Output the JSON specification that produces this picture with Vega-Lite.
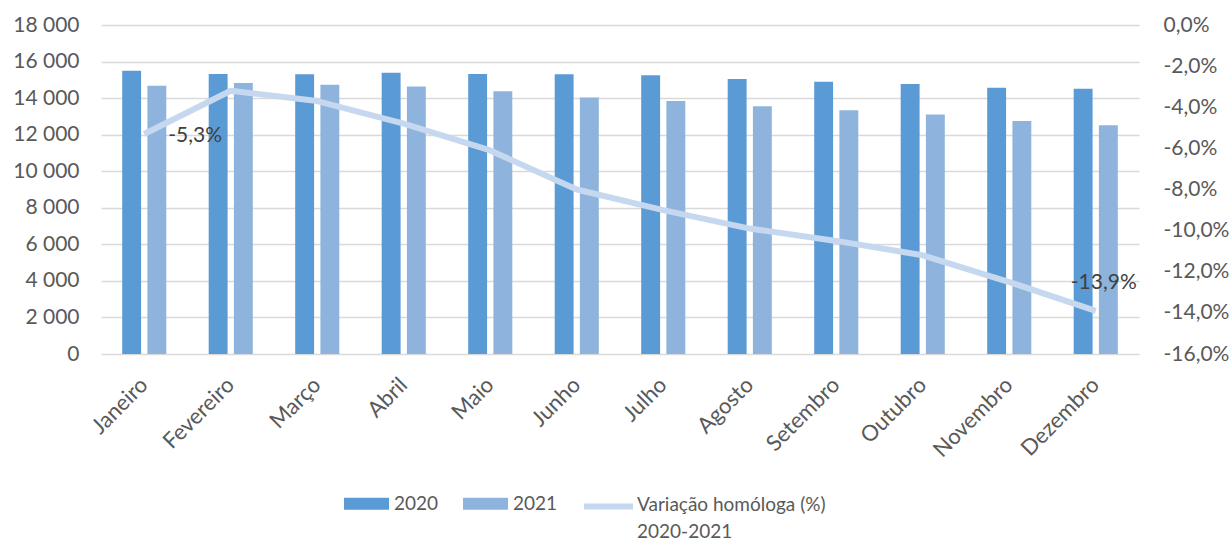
{
  "$schema": "https://vega.github.io/schema/vega-lite/v6.json",
  "width": 1038,
  "height": 329,
  "autosize": {"type": "pad"},
  "padding": {"left": 12, "top": 14, "right": 5, "bottom": 0},
  "config": {
    "font": "Lato",
    "view": {"stroke": null},
    "axis": {"labelFont": "Lato", "labelFontSize": 21, "labelColor": "#595959", "titleColor": "#595959"}
  },
  "datasets": {
    "barras": [
      {"mes": "Janeiro", "serie": "2020", "valor": 15500}, {"mes": "Janeiro", "serie": "2021", "valor": 14670},
      {"mes": "Fevereiro", "serie": "2020", "valor": 15320}, {"mes": "Fevereiro", "serie": "2021", "valor": 14830},
      {"mes": "Março", "serie": "2020", "valor": 15300}, {"mes": "Março", "serie": "2021", "valor": 14730},
      {"mes": "Abril", "serie": "2020", "valor": 15390}, {"mes": "Abril", "serie": "2021", "valor": 14640},
      {"mes": "Maio", "serie": "2020", "valor": 15320}, {"mes": "Maio", "serie": "2021", "valor": 14370},
      {"mes": "Junho", "serie": "2020", "valor": 15300}, {"mes": "Junho", "serie": "2021", "valor": 14040},
      {"mes": "Julho", "serie": "2020", "valor": 15250}, {"mes": "Julho", "serie": "2021", "valor": 13840},
      {"mes": "Agosto", "serie": "2020", "valor": 15040}, {"mes": "Agosto", "serie": "2021", "valor": 13550},
      {"mes": "Setembro", "serie": "2020", "valor": 14900}, {"mes": "Setembro", "serie": "2021", "valor": 13330},
      {"mes": "Outubro", "serie": "2020", "valor": 14770}, {"mes": "Outubro", "serie": "2021", "valor": 13110},
      {"mes": "Novembro", "serie": "2020", "valor": 14570}, {"mes": "Novembro", "serie": "2021", "valor": 12750},
      {"mes": "Dezembro", "serie": "2020", "valor": 14510}, {"mes": "Dezembro", "serie": "2021", "valor": 12510}
    ],
    "variacao": [
      {"mes": "Janeiro", "var": -0.053, "rotulo": "-5,3%", "serie": "Variação homóloga (%) 2020-2021"},
      {"mes": "Fevereiro", "var": -0.032, "serie": "Variação homóloga (%) 2020-2021"},
      {"mes": "Março", "var": -0.037, "serie": "Variação homóloga (%) 2020-2021"},
      {"mes": "Abril", "var": -0.048, "serie": "Variação homóloga (%) 2020-2021"},
      {"mes": "Maio", "var": -0.061, "serie": "Variação homóloga (%) 2020-2021"},
      {"mes": "Junho", "var": -0.080, "serie": "Variação homóloga (%) 2020-2021"},
      {"mes": "Julho", "var": -0.090, "serie": "Variação homóloga (%) 2020-2021"},
      {"mes": "Agosto", "var": -0.099, "serie": "Variação homóloga (%) 2020-2021"},
      {"mes": "Setembro", "var": -0.105, "serie": "Variação homóloga (%) 2020-2021"},
      {"mes": "Outubro", "var": -0.112, "serie": "Variação homóloga (%) 2020-2021"},
      {"mes": "Novembro", "var": -0.125, "serie": "Variação homóloga (%) 2020-2021"},
      {"mes": "Dezembro", "var": -0.139, "rotulo": "-13,9%", "serie": "Variação homóloga (%) 2020-2021"}
    ]
  },
  "layer": [
    {
      "data": {"name": "barras"},
      "mark": {"type": "bar"},
      "encoding": {
        "x": {
          "field": "mes", "type": "nominal",
          "sort": ["Janeiro", "Fevereiro", "Março", "Abril", "Maio", "Junho", "Julho", "Agosto", "Setembro", "Outubro", "Novembro", "Dezembro"],
          "scale": {"paddingInner": 0.49, "paddingOuter": 0.245},
          "axis": {"title": null, "labelAngle": -45, "labelAlign": "right", "labelBaseline": "middle", "labelPadding": 27, "labelFontSize": 22, "domain": false, "ticks": false, "grid": false}
        },
        "xOffset": {"field": "serie", "type": "nominal", "scale": {"paddingInner": 0.25, "paddingOuter": 0}},
        "y": {
          "field": "valor", "type": "quantitative",
          "scale": {"domain": [0, 18000], "nice": false},
          "axis": {
            "title": null, "values": [0, 2000, 4000, 6000, 8000, 10000, 12000, 14000, 16000, 18000],
            "labelExpr": "replace(format(datum.value, ','), ',', ' ')",
            "grid": true, "gridColor": "#d9d9d9", "gridWidth": 1.3, "domain": false, "ticks": false, "labelPadding": 22
          }
        },
        "color": {
          "field": "serie", "type": "nominal",
          "scale": {"domain": ["2020", "2021"], "range": ["#5b9bd5", "#8eb4de"]},
          "legend": {
            "title": null, "orient": "none", "direction": "horizontal", "legendX": 243, "legendY": 456,
            "labelFont": "Lato", "labelFontSize": 19, "labelColor": "#595959", "labelOffset": 5, "columnPadding": 24,
            "symbolSize": 2025, "labelLimit": 400,
            "encode": {
              "symbols": {
                "update": {
                  "shape": {"value": "M-1,-0.27H1V0.27H-1Z"},
                  "fill": {"scale": "color", "field": "value"},
                  "strokeWidth": {"value": 0},
                  "opacity": {"value": 1}
                }
              }
            }
          }
        }
      }
    },
    {
      "data": {"name": "variacao"},
      "encoding": {
        "x": {"field": "mes", "type": "nominal", "sort": ["Janeiro", "Fevereiro", "Março", "Abril", "Maio", "Junho", "Julho", "Agosto", "Setembro", "Outubro", "Novembro", "Dezembro"]},
        "y": {
          "field": "var", "type": "quantitative",
          "scale": {"domain": [-0.16, 0], "nice": false},
          "axis": {
            "orient": "right", "title": null,
            "values": [0, -0.02, -0.04, -0.06, -0.08, -0.1, -0.12, -0.14, -0.16],
            "labelExpr": "(datum.value < -0.00001 ? '-' : '') + replace(format(abs(datum.value), '.1%'), '.', ',')",
            "grid": false, "domain": false, "ticks": false, "labelPadding": 24
          }
        }
      },
      "layer": [
        {
          "mark": {"type": "line", "strokeWidth": 6, "strokeJoin": "round", "strokeCap": "butt"},
          "encoding": {
            "stroke": {
              "field": "serie", "type": "nominal",
              "scale": {"domain": ["Variação homóloga (%) 2020-2021"], "range": ["#c6d8ef"]},
              "legend": {
                "title": null, "orient": "none", "legendX": 480, "legendY": 454,
                "symbolType": "stroke", "symbolSize": 2401, "symbolStrokeWidth": 6, "symbolStrokeColor": "#c6d8ef",
                "labelFont": "Lato", "labelFontSize": 19, "labelColor": "#595959", "labelOffset": 1, "labelLimit": 400,
                "labelExpr": "['Variação homóloga (%)', '2020-2021']",
                "encode": {
                  "labels": {
                    "update": {
                      "lineHeight": {"value": 27},
                      "baseline": {"value": "top"},
                      "dy": {"value": -11}
                    }
                  }
                }
              }
            }
          }
        },
        {
          "transform": [{"filter": "datum.mes == 'Janeiro'"}],
          "mark": {"type": "text", "align": "left", "baseline": "middle", "dx": 24, "dy": 2, "fontSize": 21, "font": "Lato", "color": "#404040"},
          "encoding": {"text": {"field": "rotulo"}}
        },
        {
          "transform": [{"filter": "datum.mes == 'Dezembro'"}],
          "mark": {"type": "text", "align": "center", "baseline": "middle", "dx": 8, "dy": -28, "fontSize": 21, "font": "Lato", "color": "#404040"},
          "encoding": {"text": {"field": "rotulo"}}
        }
      ]
    }
  ],
  "resolve": {"scale": {"y": "independent"}}
}
